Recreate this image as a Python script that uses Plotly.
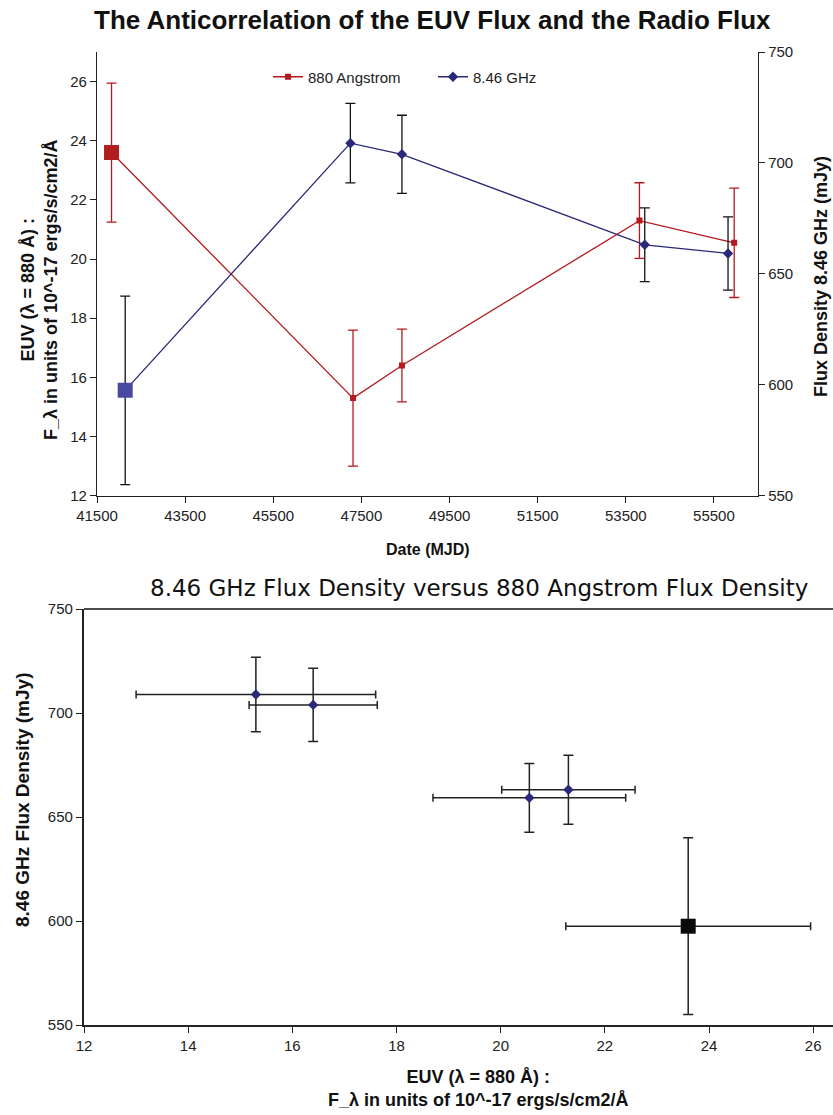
import plotly.graph_objects as go

# ---- data ----
mjd_euv = [41830, 47310, 48420, 53810, 55960]
euv = [23.6, 15.3, 16.4, 21.3, 20.55]
euv_err = [2.35, 2.3, 1.23, 1.28, 1.85]

mjd_radio = [42140, 47250, 48420, 53930, 55820]
radio = [597.5, 708.9, 703.9, 663.1, 659.2]
radio_err = [42.5, 17.9, 17.6, 16.6, 16.5]

x_ticks_top = [41500, 43500, 45500, 47500, 49500, 51500, 53500, 55500]
y_ticks_left = [12, 14, 16, 18, 20, 22, 24, 26]
y_ticks_right = [550, 600, 650, 700, 750]
x_ticks_bottom = [12, 14, 16, 18, 20, 22, 24, 26]
y_ticks_bottom = [550, 600, 650, 700, 750]

W, H = 833, 1115
RED = "#B5191E"
NAVY = "#2A2878"
NARROW = "Liberation Sans Narrow, Arial Narrow, Liberation Sans, sans-serif"
SANS = "Liberation Sans, Arial, sans-serif"

def px(x):
    return x / W

def py(y):
    return 1 - y / H

fig = go.Figure()

# top: EUV (red)
fig.add_trace(go.Scatter(
    x=mjd_euv, y=euv, name="880 Angstrom", mode="lines+markers",
    line=dict(color=RED, width=1.3),
    marker=dict(symbol="square", size=6, color=RED),
    error_y=dict(type="data", array=euv_err, color=RED, thickness=1.3, width=5),
    xaxis="x", yaxis="y",
))
fig.add_trace(go.Scatter(
    x=mjd_euv[:1], y=euv[:1], mode="markers", showlegend=False,
    marker=dict(symbol="square", size=15, color="#B01C1F"),
    xaxis="x", yaxis="y",
))
# top: radio (navy)
fig.add_trace(go.Scatter(
    x=mjd_radio, y=radio, name="8.46 GHz", mode="lines+markers",
    line=dict(color=NAVY, width=1.3),
    marker=dict(symbol="diamond", size=8, color=NAVY),
    error_y=dict(type="data", array=radio_err, color="#111111", thickness=1.3, width=5),
    xaxis="x", yaxis="y2",
))
fig.add_trace(go.Scatter(
    x=mjd_radio[:1], y=radio[:1], mode="markers", showlegend=False,
    marker=dict(symbol="square", size=15, color="#4848A0"),
    xaxis="x", yaxis="y2",
))

# bottom: radio vs EUV
fig.add_trace(go.Scatter(
    x=euv, y=radio, mode="markers", showlegend=False,
    marker=dict(symbol="diamond", size=8, color=NAVY),
    error_x=dict(type="data", array=euv_err, color="#222222", thickness=1.5, width=4),
    error_y=dict(type="data", array=radio_err, color="#222222", thickness=1.5, width=5),
    xaxis="x2", yaxis="y3",
))
fig.add_trace(go.Scatter(
    x=euv[:1], y=radio[:1], mode="markers", showlegend=False,
    marker=dict(symbol="square", size=15, color="#0A0A0A"),
    xaxis="x2", yaxis="y3",
))

tickfont = dict(family=NARROW, size=15, color="#222222")
axis_common = dict(showgrid=False, zeroline=False, showline=True, linecolor="#222222",
                   ticks="outside", ticklen=6, tickcolor="#222222", tickfont=tickfont,
                   automargin=False, tickformat="d")

fig.update_layout(
    template="none",
    width=W, height=H,
    margin=dict(l=0, r=0, t=0, b=0, pad=0),
    paper_bgcolor="white", plot_bgcolor="white",
    showlegend=True,
    legend=dict(orientation="h", x=px(268), y=py(77), xanchor="left", yanchor="middle",
                font=dict(family=NARROW, size=15, color="#222222"),
                bgcolor="rgba(0,0,0,0)", entrywidthmode="pixels", entrywidth=120),
    xaxis=dict(domain=[px(97), px(758)], range=[41500, 56500], tickvals=x_ticks_top,
               anchor="y", linewidth=1.3, **axis_common),
    yaxis=dict(domain=[py(495.7), py(52)], range=[12, 27], tickvals=y_ticks_left,
               anchor="x", linewidth=1.3, **axis_common),
    yaxis2=dict(domain=[py(495.7), py(52)], range=[550, 750], tickvals=y_ticks_right,
                overlaying="y", side="right", anchor="x", linewidth=1.3, **axis_common),
    xaxis2=dict(domain=[px(84), 1.0], range=[12, 26.38], tickvals=x_ticks_bottom,
                anchor="y3", linewidth=2.2, **axis_common),
    yaxis3=dict(domain=[py(1025), py(609)], range=[550, 750], tickvals=y_ticks_bottom,
                anchor="x2", linewidth=2.2, **axis_common),
)

# top border of bottom panel
fig.add_shape(type="line", xref="paper", yref="paper",
              x0=px(84), x1=1.0, y0=py(609), y1=py(609),
              line=dict(color="#111111", width=1.3))

ann = []
ann.append(dict(text="<b>The Anticorrelation of the EUV Flux and the Radio Flux</b>",
                x=px(432), y=py(20), font=dict(family=NARROW, size=26, color="#111111")))
ann.append(dict(text="<b>EUV (λ = 880 Å) :<br>F_λ in units of 10^-17 ergs/s/cm2/Å</b>",
                x=px(40), y=py(290), textangle=-90,
                font=dict(family=SANS, size=18, color="#111111")))
ann.append(dict(text="<b>Flux Density 8.46 GHz (mJy)</b>",
                x=px(821), y=py(277), textangle=-90,
                font=dict(family=SANS, size=18, color="#111111")))
ann.append(dict(text="<b>Date (MJD)</b>", x=px(428), y=py(549),
                font=dict(family=NARROW, size=16, color="#111111")))
ann.append(dict(text="8.46 GHz Flux Density versus 880 Angstrom Flux Density",
                x=px(479), y=py(588), font=dict(family="DejaVu Sans, sans-serif", size=23, color="#111111")))
ann.append(dict(text="<b>8.46 GHz Flux Density (mJy)</b>",
                x=px(22), y=py(800), textangle=-90,
                font=dict(family=SANS, size=19, color="#111111")))
ann.append(dict(text="<b>EUV (λ = 880 Å) :<br>F_λ in units of 10^-17 ergs/s/cm2/Å</b>",
                x=px(478), y=py(1088),
                font=dict(family=NARROW, size=18, color="#111111")))
for a in ann:
    a.update(xref="paper", yref="paper", showarrow=False, xanchor="center", yanchor="middle")
fig.update_layout(annotations=ann)

fig.write_html("out.html", config={"displayModeBar": False},
               post_script="document.body.style.margin='0px';")
